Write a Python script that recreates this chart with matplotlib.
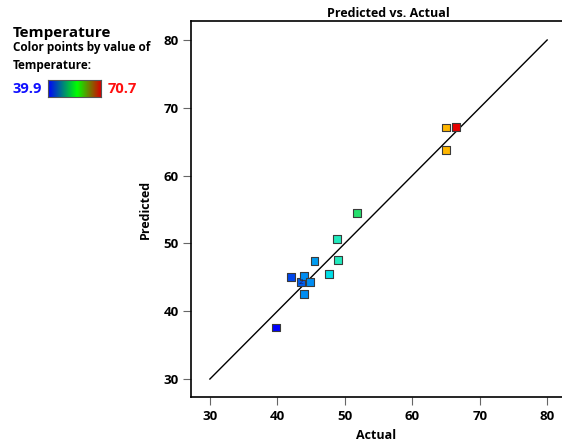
import numpy as np
import matplotlib
matplotlib.use("Agg")
import matplotlib.pyplot as plt
from matplotlib.colors import LinearSegmentedColormap

plt.rcParams['font.family'] = ['Open Sans', 'DejaVu Sans']

# Design points: actual response, predicted response, temperature factor
actual = [39.8, 42.0, 43.5, 44.0, 44.8, 44.0, 45.5, 47.6, 49.0, 48.9, 51.8, 65.0, 65.0, 66.5]
predicted = [37.6, 45.0, 44.3, 45.2, 44.3, 42.6, 47.4, 45.5, 47.6, 50.6, 54.5, 67.1, 63.8, 67.2]
temperature = [39.9, 42.5, 43.5, 45.5, 45.5, 45.5, 46.0, 48.0, 49.6, 49.6, 51.8, 66.0, 66.0, 70.7]
counts = [1, 1, 2, 1, 1, 1, 1, 1, 1, 1, 1, 1, 1, 1]
temp_min, temp_max = 39.9, 70.7
x_ticks = [30, 40, 50, 60, 70, 80]
y_ticks = [30, 40, 50, 60, 70, 80]

point_cmap = LinearSegmentedColormap.from_list("pts", [
    (0.00, (0.00, 0.00, 1.00)),
    (0.09, (0.00, 0.30, 0.92)),
    (0.18, (0.00, 0.55, 0.95)),
    (0.27, (0.00, 0.90, 0.90)),
    (0.32, (0.15, 0.92, 0.72)),
    (0.39, (0.15, 0.87, 0.40)),
    (0.60, (0.70, 0.90, 0.00)),
    (0.85, (1.00, 0.71, 0.00)),
    (1.00, (0.90, 0.00, 0.00)),
])
legend_cmap = LinearSegmentedColormap.from_list("leg", [
    (0.0, (0.0, 0.0, 1.0)),
    (0.55, (0.0, 1.0, 0.0)),
    (1.0, (0.85, 0.0, 0.0)),
])

fig = plt.figure(figsize=(5.62, 4.43), dpi=100)
ax = fig.add_axes([191 / 562, 46 / 443, 371 / 562, 376 / 443])
ax.set_xlim(27.2, 82.2)
ax.set_ylim(27.35, 82.8)

ax.plot([30, 80], [30, 80], color="black", lw=1.0, zorder=2)

norm_t = [(t - temp_min) / (temp_max - temp_min) for t in temperature]
colors = [point_cmap(v) for v in norm_t]
ax.scatter(actual, predicted, marker="s", s=32, c=colors,
           edgecolors="#3a3a3a", linewidths=0.8, zorder=3)
for xa, yp, n in zip(actual, predicted, counts):
    if n > 1:
        ax.text(xa, yp, str(n), fontsize=6, ha="center", va="center",
                color="#1a1a60", zorder=4)

ax.spines["right"].set_visible(False)
for s in ["left", "bottom", "top"]:
    ax.spines[s].set_linewidth(1.2)
ax.set_xticks(x_ticks)
ax.set_yticks(y_ticks)
ax.tick_params(direction="out", length=6, width=0.8, color="#666666",
               labelsize=9.5, pad=3)
for lab in ax.get_xticklabels() + ax.get_yticklabels():
    lab.set_fontweight("bold")
ax.set_xlabel("Actual", fontsize=9, fontweight="bold", labelpad=5)
ax.set_ylabel("Predicted", fontsize=9, fontweight="bold", labelpad=8)
ax.set_title("Predicted vs. Actual", fontsize=9, fontweight="bold", pad=3, x=(388 - 191) / 371)

# Colour legend on the left
fig.text(13 / 562, 1 - 33 / 443, "Temperature", fontsize=11, fontweight="bold", va="center")
fig.text(13 / 562, 1 - 48 / 443, "Color points by value of", fontsize=8.5, fontweight="bold", va="center")
fig.text(13 / 562, 1 - 66 / 443, "Temperature:", fontsize=8.5, fontweight="bold", va="center")
fig.text(13 / 562, 1 - 89 / 443, f"{temp_min}", fontsize=10.5, fontweight="bold",
         color="#1010ff", va="center")
fig.text(108 / 562, 1 - 89 / 443, f"{temp_max}", fontsize=10.5, fontweight="bold",
         color="#ff1010", va="center")
cax = fig.add_axes([48 / 562, 1 - 97 / 443, 53 / 562, 17 / 443])
cax.imshow(np.linspace(0, 1, 256)[None, :], aspect="auto", cmap=legend_cmap)
cax.set_xticks([])
cax.set_yticks([])
for s in cax.spines.values():
    s.set_color("#555555")
    s.set_linewidth(0.8)

fig.savefig("out.png", dpi=100)
